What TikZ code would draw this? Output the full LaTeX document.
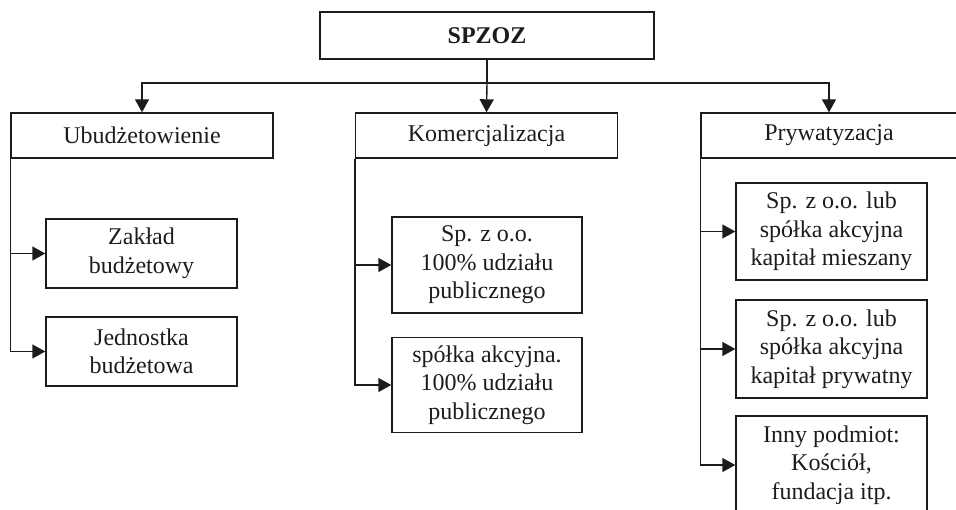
\documentclass[tikz,border=0pt]{standalone}
\usepackage{fontspec}
\setmainfont{Liberation Serif}
\usetikzlibrary{arrows.meta}
\definecolor{ink}{RGB}{30,27,28}
\begin{document}
\begin{tikzpicture}[x=1pt,y=-1pt,
  every node/.style={font=\fontsize{24}{28.5}\selectfont, text=ink},
  box/.style={draw=ink, line width=1.4pt, inner sep=0pt, align=center,
    minimum width=#1},
  head/.style={box=262, minimum height=45},
  leaf/.style={box=191},
  link/.style={draw=ink, line width=1.4pt},
  arr/.style={link, -{Triangle[length=13pt,width=14pt]}}]
\useasboundingbox (0,0) rectangle (956,510);
\begin{scope}
\clip (0,0) rectangle (956,510);

% top node
\node[box=334, minimum height=47, font=\fontsize{24}{28.5}\selectfont\bfseries] (spzoz) at (487,35.5) {SPZOZ};

% second level
\node[head] (ub)  at (142,135.5)   {Ubudżetowienie};
\node[head] (kom) at (486.5,135.5) {Komercjalizacja};
\node[head, minimum width=256] (pr) at (829,135.5) {Prywatyzacja};

% Ubudżetowienie branch
\node[leaf, minimum height=69] (zak) at (141.5,253.5) {Zakład\\budżetowy};
\node[leaf, minimum height=69] (jed) at (141.5,351.5) {Jednostka\\budżetowa};

% Komercjalizacja branch
\node[leaf, minimum height=96, minimum width=190] (spa) at (487,265) {Sp. z o.o.\\100\% udziału\\publicznego};
\node[leaf, minimum height=95, minimum width=190] (sa)  at (487,385) {spółka akcyjna.\\100\% udziału\\publicznego};

% Prywatyzacja branch
\node[leaf, minimum height=97] (p1) at (831.5,231.5) {Sp. z o.o. lub\\spółka akcyjna\\kapitał mieszany};
\node[leaf, minimum height=98] (p2) at (831.5,349)   {Sp. z o.o. lub\\spółka akcyjna\\kapitał prywatny};
\node[leaf, minimum height=98] (p3) at (831.5,465)   {Inny podmiot:\\Kościół,\\fundacja itp.};

% distribution bus below the top node
\coordinate (bus) at (487,83);
\draw[link] (spzoz.south) -- (bus);
\draw[arr] (bus) -- (kom.north);
\draw[arr] (bus) -| (ub.north);
\draw[arr] (bus) -| (pr.north);

% side rails with arrows into the leaf boxes
\draw[arr] (ub.south west) |- (zak.west);
\draw[arr] (ub.south west) |- (jed.west);
\draw[arr] (kom.south west) |- (spa.west);
\draw[arr] (kom.south west) |- (sa.west);
\draw[arr] (pr.south west) |- (p1.west);
\draw[arr] (pr.south west) |- (p2.west);
\draw[arr] (pr.south west) |- (p3.west);
\end{scope}
\end{tikzpicture}
\end{document}
